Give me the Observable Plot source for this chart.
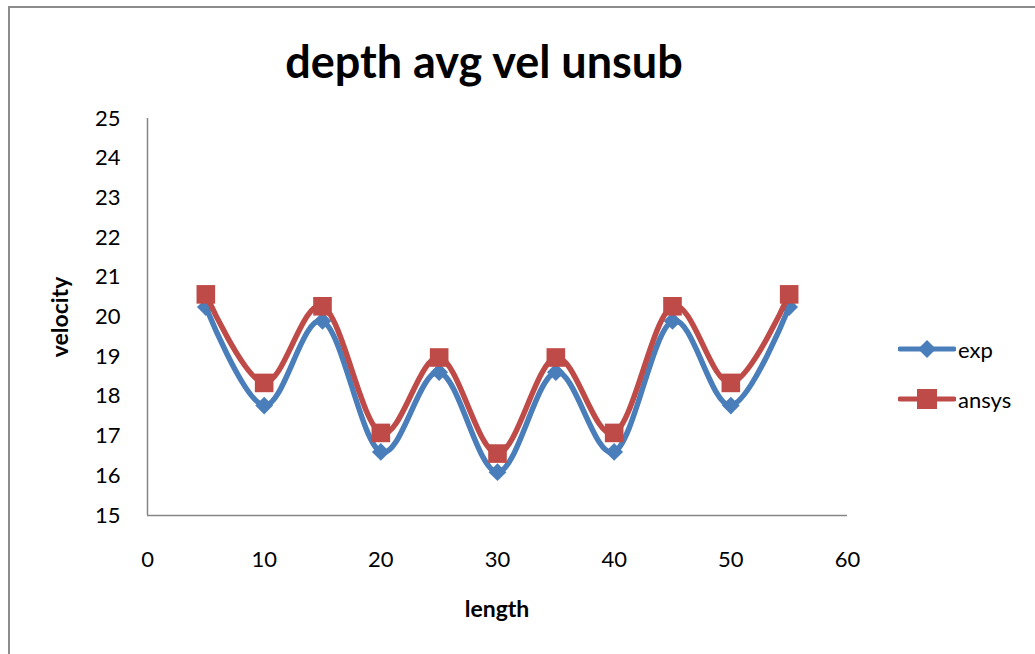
<!DOCTYPE html>
<html>
<head>
<meta charset="utf-8">
<script src="https://cdn.jsdelivr.net/npm/d3@7"></script>
<script src="https://cdn.jsdelivr.net/npm/@observablehq/plot@0.6"></script>
<style>
  html, body { margin: 0; padding: 0; background: #fff; }
  #chart { position: relative; width: 1035px; height: 654px; overflow: hidden; font-family: Lato, "Open Sans", sans-serif; }
  #frame { position: absolute; left: 8px; top: 6px; width: 1040px; height: 700px; border: 2px solid #8c8c8c; box-sizing: border-box; }
  #title { position: absolute; left: 0; width: 968px; top: 34px; text-align: center; font-size: 45px; font-weight: bold; color: #000; white-space: nowrap; }
  #ylabel { position: absolute; left: 59px; top: 317px; transform: translate(-50%, -50%) rotate(-90deg); font-size: 23px; font-weight: bold; white-space: nowrap; }
  #xlabel { position: absolute; left: 497px; top: 594px; transform: translateX(-50%); font-size: 23px; font-weight: bold; }
  #legend { position: absolute; left: 898px; top: 324px; font-size: 22px; }
  #legend .row { display: flex; align-items: center; height: 50px; }
  #legend svg { margin-right: 2px; }
  #plot { position: absolute; left: 0; top: 0; }
</style>
</head>
<body>
<div id="chart">
  <div id="frame"></div>
  <div id="plot"></div>
  <div id="title">depth avg vel unsub</div>
  <div id="ylabel">velocity</div>
  <div id="xlabel">length</div>
  <div id="legend"></div>
</div>
<script>
// Depth-averaged velocity along the channel: measured vs. ANSYS
const lengths = [5, 10, 15, 20, 25, 30, 35, 40, 45, 50, 55];
const expVel = [20.25, 17.77, 19.9, 16.6, 18.61, 16.09, 18.61, 16.6, 19.9, 17.77, 20.25];
const ansysVel = [20.57, 18.34, 20.27, 17.08, 18.98, 16.56, 18.98, 17.08, 20.27, 18.34, 20.57];
const xTicks = [0, 10, 20, 30, 40, 50, 60];
const yTicks = [15, 16, 17, 18, 19, 20, 21, 22, 23, 24, 25];

const blue = "#4a7ebb";
const red = "#be4b48";

const expData = lengths.map((x, i) => ({x, y: expVel[i]}));
const ansysData = lengths.map((x, i) => ({x, y: ansysVel[i]}));

const plot = Plot.plot({
  width: 1035,
  height: 654,
  marginLeft: 147,
  marginRight: 188,
  marginTop: 118,
  marginBottom: 139,
  style: {fontFamily: "Lato, 'Open Sans', sans-serif", fontSize: "22px", color: "#000", background: "transparent"},
  x: {domain: [0, 60], ticks: xTicks, tickSize: 0, tickPadding: 36, label: null},
  y: {domain: [15, 25], ticks: yTicks, tickSize: 0, tickPadding: 27, label: null},
  marks: [
    Plot.ruleX([0], {stroke: "#868686", strokeWidth: 1.5}),
    Plot.ruleY([15], {stroke: "#868686", strokeWidth: 1.5}),
    Plot.line(expData, {x: "x", y: "y", stroke: blue, strokeWidth: 5.5, curve: "cardinal", tension: 0}),
    Plot.dot(expData, {x: "x", y: "y", symbol: "diamond2", r: 8, fill: blue, stroke: "none"}),
    Plot.line(ansysData, {x: "x", y: "y", stroke: red, strokeWidth: 5.5, curve: "cardinal", tension: 0}),
    Plot.dot(ansysData, {x: "x", y: "y", symbol: "square", r: 10.5, fill: red, stroke: "none"})
  ]
});
document.getElementById("plot").appendChild(plot);

// Legend entries: line with centred marker, then the series name
const legend = document.getElementById("legend");
[
  {name: "exp", color: blue, shape: "diamond"},
  {name: "ansys", color: red, shape: "square"}
].forEach(s => {
  const row = document.createElement("div");
  row.className = "row";
  const svg = d3.create("svg").attr("width", 58).attr("height", 22);
  svg.append("line").attr("x1", 2).attr("x2", 56).attr("y1", 11).attr("y2", 11)
    .attr("stroke", s.color).attr("stroke-width", 5).attr("stroke-linecap", "round");
  if (s.shape === "diamond") {
    svg.append("path").attr("d", "M29,2 L38,11 L29,20 L20,11 Z").attr("fill", s.color);
  } else {
    svg.append("rect").attr("x", 19).attr("y", 1).attr("width", 20).attr("height", 20).attr("fill", s.color);
  }
  row.appendChild(svg.node());
  const label = document.createElement("span");
  label.textContent = s.name;
  row.appendChild(label);
  legend.appendChild(row);
});
</script>
</body>
</html>
